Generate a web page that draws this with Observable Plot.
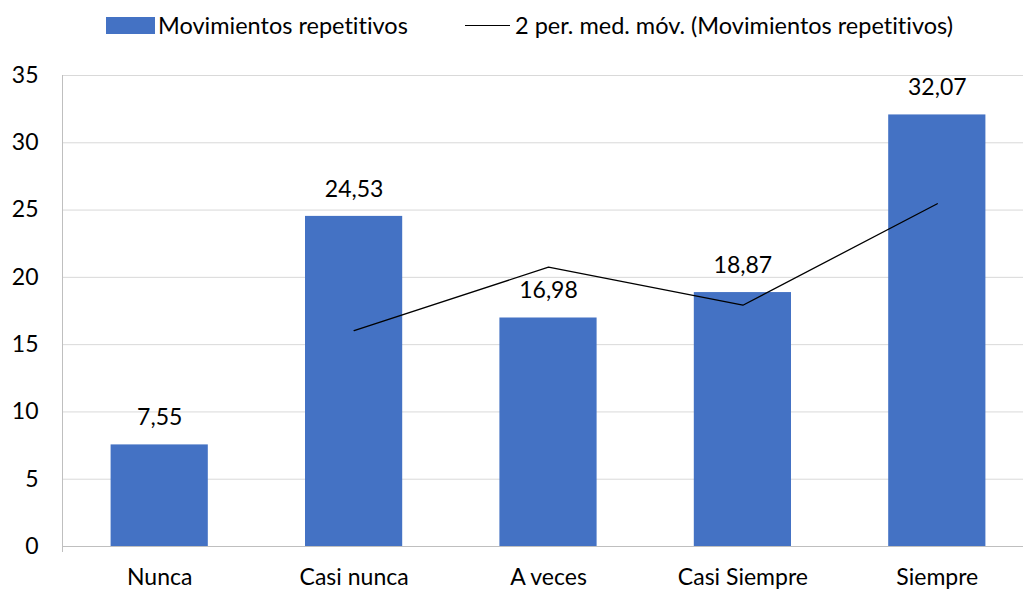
<!DOCTYPE html>
<html>
<head>
<meta charset="utf-8">
<script src="https://cdn.jsdelivr.net/npm/d3@7"></script>
<script src="https://cdn.jsdelivr.net/npm/@observablehq/plot@0.6"></script>
<style>
  html, body { margin: 0; padding: 0; background: #fff; overflow: hidden; width: 1023px; height: 590px; }
  * { font-variant-ligatures: none; font-feature-settings: "liga" 0, "clig" 0; }
  #legend { position: relative; height: 50px; font-family: Lato, "Open Sans", sans-serif; font-size: 23.5px; color: #000; }
  .item { position: absolute; top: 11px; display: flex; align-items: center; white-space: nowrap; }
  .sw { width: 49px; height: 17px; background: #4472C4; margin-right: 3px; }
  .ln { width: 45px; height: 0; border-top: 1.3px solid #000; margin-right: 5px; }
  #chart { width: 1023px; overflow: hidden; }
  #chart svg { display: block; max-width: none !important; }
  #chart svg text { font-variant-ligatures: none; }
</style>
</head>
<body>
<div id="legend">
  <div class="item" style="left:106px"><div class="sw"></div><span>Movimientos repetitivos</span></div>
  <div class="item" style="left:465px"><div class="ln"></div><span>2 per. med. móv. (Movimientos repetitivos)</span></div>
</div>
<div id="chart"></div>
<script>
const categories = ["Nunca", "Casi nunca", "A veces", "Casi Siempre", "Siempre"];
const values = [7.55, 24.53, 16.98, 18.87, 32.07];
const movingAvgCategories = ["Casi nunca", "A veces", "Casi Siempre", "Siempre"];
const movingAvgValues = [16.04, 20.76, 17.93, 25.47];
const yTicks = [0, 5, 10, 15, 20, 25, 30, 35];

const bars = categories.map((c, i) => ({category: c, value: values[i]}));
const avg = movingAvgCategories.map((c, i) => ({category: c, value: movingAvgValues[i]}));

const W = 1035, H = 540, ML = 62, MR = 1, MT = 25, MB = 44;
const halfStep = (W - ML - MR) / categories.length / 2;
const plotH = H - MT - MB;
const fmt = v => v.toFixed(2).replace(".", ",");
const FS = 23;

const chart = Plot.plot({
  width: W,
  height: H,
  marginLeft: ML,
  marginRight: MR,
  marginTop: MT,
  marginBottom: MB,
  style: {fontFamily: "Lato, 'Open Sans', sans-serif", fontSize: FS + "px", color: "#000", background: "#fff", maxWidth: "none"},
  x: {domain: categories, paddingInner: 0.5, paddingOuter: 0.25, round: false, label: null},
  y: {domain: [0, 35], label: null},
  marks: [
    Plot.gridY(yTicks, {stroke: "#d9d9d9", strokeOpacity: 1, strokeWidth: 1}),
    Plot.barY(bars, {x: "category", y: "value", fill: "#4472C4"}),
    Plot.ruleY([0], {stroke: "#bfbfbf", strokeWidth: 1}),
    Plot.ruleX(categories, {x: "category", dx: -halfStep, stroke: "#bfbfbf", insetTop: plotH, insetBottom: -6}),
    Plot.ruleX([categories[categories.length - 1]], {x: d => d, dx: halfStep, stroke: "#bfbfbf", insetTop: plotH, insetBottom: -6}),
    Plot.ruleX(categories.slice(0, 1), {x: d => d, dx: -halfStep, stroke: "#bfbfbf", insetBottom: -6}),
    Plot.lineY(avg, {x: "category", y: "value", stroke: "#000", strokeWidth: 1.3}),
    Plot.text(bars, {x: "category", y: "value", text: d => fmt(d.value), dy: -27, lineAnchor: "middle", fill: "#000", fontSize: FS}),
    Plot.axisY(yTicks, {tickSize: 0, tickPadding: 24, fill: "#000", fontSize: FS, label: null}),
    Plot.axisX({tickSize: 0, tickPadding: 22, fill: "#000", fontSize: FS, label: null})
  ]
});
chart.style.maxWidth = "none";
chart.style.width = W + "px";
chart.style.height = H + "px";
document.getElementById("chart").appendChild(chart);
</script>
</body>
</html>
